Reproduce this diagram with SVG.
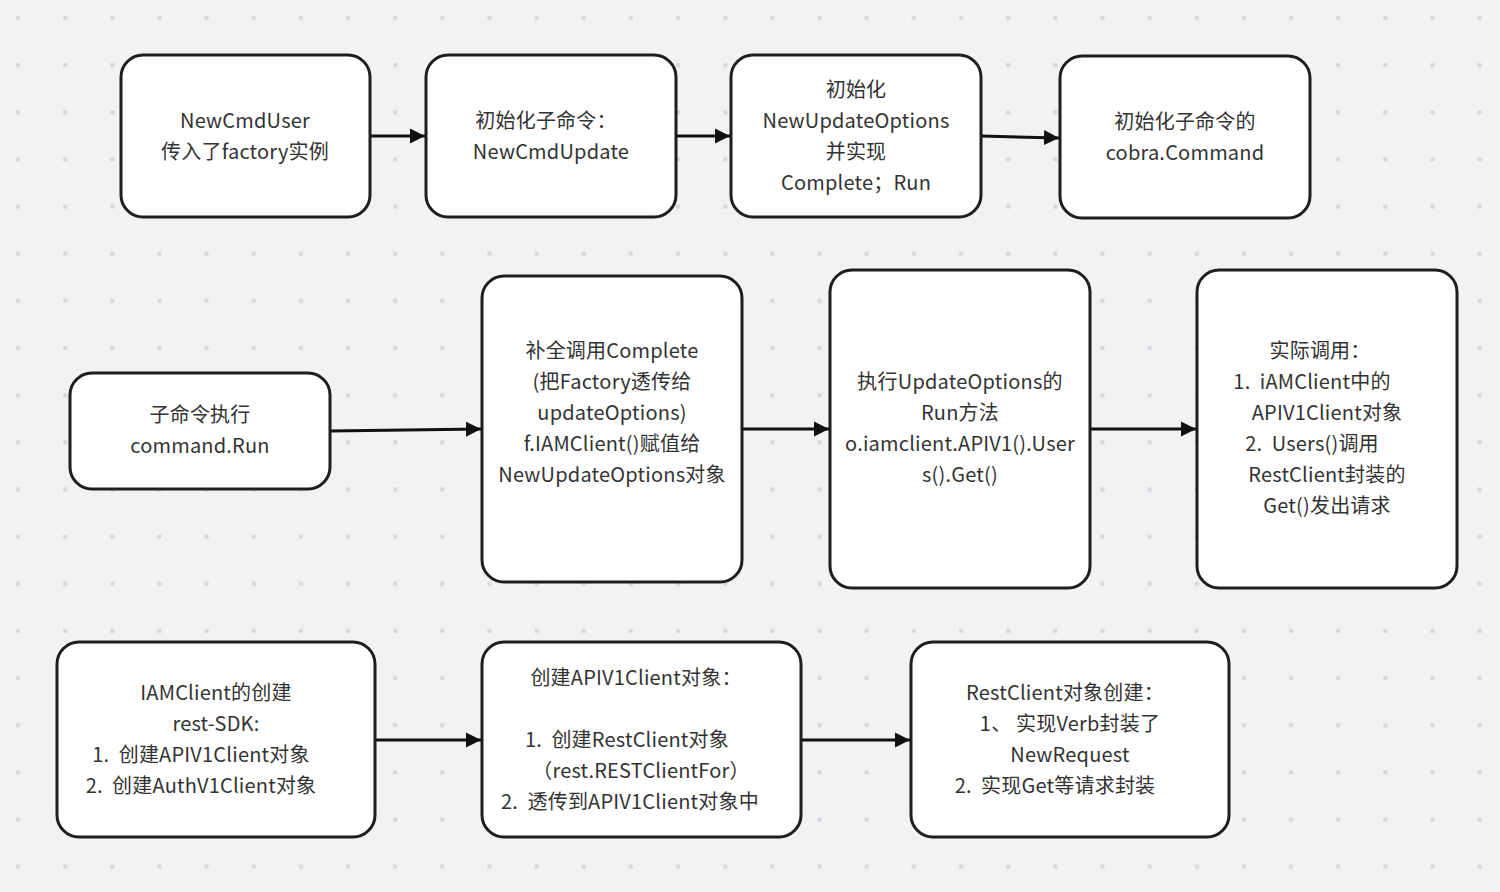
<svg xmlns="http://www.w3.org/2000/svg" width="1500" height="892" viewBox="0 0 1500 892">
<defs>
<pattern id="dots" patternUnits="userSpaceOnUse" x="0" y="0" width="47.15" height="47.15">
<rect x="16" y="16" width="4" height="4" fill="#d6d6da"/>
</pattern>
<marker id="arr" markerUnits="userSpaceOnUse" markerWidth="17" markerHeight="17" refX="15" refY="8.5" orient="auto">
<path d="M0,1 L15,8.5 L0,16 z" fill="#111"/>
</marker>
<style>
.box{fill:#fff;stroke:#1e1e1e;stroke-width:3}
.t{font-family:"Noto Sans CJK SC","Noto Sans",sans-serif;font-size:20px;fill:#333;text-anchor:middle;white-space:pre;letter-spacing:0.2px}
.c{fill:none;stroke:#111;stroke-width:3;marker-end:url(#arr)}
</style>
</defs>
<rect width="1500" height="892" fill="#f2f2f4"/>
<rect width="1500" height="892" fill="url(#dots)"/>

<g id="connectors">
<path class="c" d="M371,136 L425,136"/>
<path class="c" d="M676,136 L730,136"/>
<path class="c" d="M981,136 L1059,138"/>
<path class="c" d="M330,431 L481,429"/>
<path class="c" d="M742,429 L829,429"/>
<path class="c" d="M1090,429 L1196,429"/>
<path class="c" d="M375,740 L481,740"/>
<path class="c" d="M801,740 L910,740"/>
</g>

<g id="n1">
<rect class="box" x="121" y="55" width="249" height="162" rx="22"/>
<text class="t" x="245" y="128">NewCmdUser</text>
<text class="t" x="245" y="159">传入了factory实例</text>
</g>
<g id="n2">
<rect class="box" x="426" y="55" width="250" height="162" rx="22"/>
<text class="t" x="546" y="128">初始化子命令：</text>
<text class="t" x="551" y="159">NewCmdUpdate</text>
</g>
<g id="n3">
<rect class="box" x="731" y="55" width="250" height="162" rx="22"/>
<text class="t" x="856" y="97">初始化</text>
<text class="t" x="856" y="128">NewUpdateOptions</text>
<text class="t" x="856" y="159">并实现</text>
<text class="t" x="856" y="190">Complete；Run</text>
</g>
<g id="n4">
<rect class="box" x="1060" y="56" width="250" height="162" rx="22"/>
<text class="t" x="1185" y="129">初始化子命令的</text>
<text class="t" x="1185" y="160">cobra.Command</text>
</g>

<g id="n5">
<rect class="box" x="70" y="373" width="260" height="116" rx="22"/>
<text class="t" x="200" y="422">子命令执行</text>
<text class="t" x="200" y="453">command.Run</text>
</g>
<g id="n6">
<rect class="box" x="482" y="276" width="260" height="306" rx="22"/>
<text class="t" x="612" y="358">补全调用Complete</text>
<text class="t" x="612" y="389">(把Factory透传给</text>
<text class="t" x="612" y="420">updateOptions)</text>
<text class="t" x="612" y="451">f.IAMClient()赋值给</text>
<text class="t" x="612" y="482">NewUpdateOptions对象</text>
</g>
<g id="n7">
<rect class="box" x="830" y="270" width="260" height="318" rx="22"/>
<text class="t" x="960" y="389">执行UpdateOptions的</text>
<text class="t" x="960" y="420">Run方法</text>
<text class="t" x="960" y="451">o.iamclient.APIV1().User</text>
<text class="t" x="960" y="482">s().Get()</text>
</g>
<g id="n8">
<rect class="box" x="1197" y="270" width="260" height="318" rx="22"/>
<text class="t" x="1320" y="358">实际调用：</text>
<text class="t" x="1312" y="389">1.  iAMClient中的</text>
<text class="t" x="1327" y="420">APIV1Client对象</text>
<text class="t" x="1312" y="451">2.  Users()调用</text>
<text class="t" x="1327" y="482">RestClient封装的</text>
<text class="t" x="1327" y="513">Get()发出请求</text>
</g>

<g id="n9">
<rect class="box" x="57" y="642" width="318" height="195" rx="22"/>
<text class="t" x="216" y="700">IAMClient的创建</text>
<text class="t" x="216" y="731">rest-SDK:</text>
<text class="t" x="201" y="762">1.  创建APIV1Client对象</text>
<text class="t" x="201" y="793">2.  创建AuthV1Client对象</text>
</g>
<g id="n10">
<rect class="box" x="482" y="642" width="319" height="195" rx="22"/>
<text class="t" x="636" y="685">创建APIV1Client对象：</text>
<text class="t" x="627" y="747">1.  创建RestClient对象</text>
<text class="t" x="641" y="778">（rest.RESTClientFor）</text>
<text class="t" x="630" y="809">2.  透传到APIV1Client对象中</text>
</g>
<g id="n11">
<rect class="box" x="911" y="642" width="318" height="195" rx="22"/>
<text class="t" x="1065" y="700">RestClient对象创建：</text>
<text class="t" x="1070" y="731">1、 实现Verb封装了</text>
<text class="t" x="1070" y="762">NewRequest</text>
<text class="t" x="1055" y="793">2.  实现Get等请求封装</text>
</g>
</svg>
